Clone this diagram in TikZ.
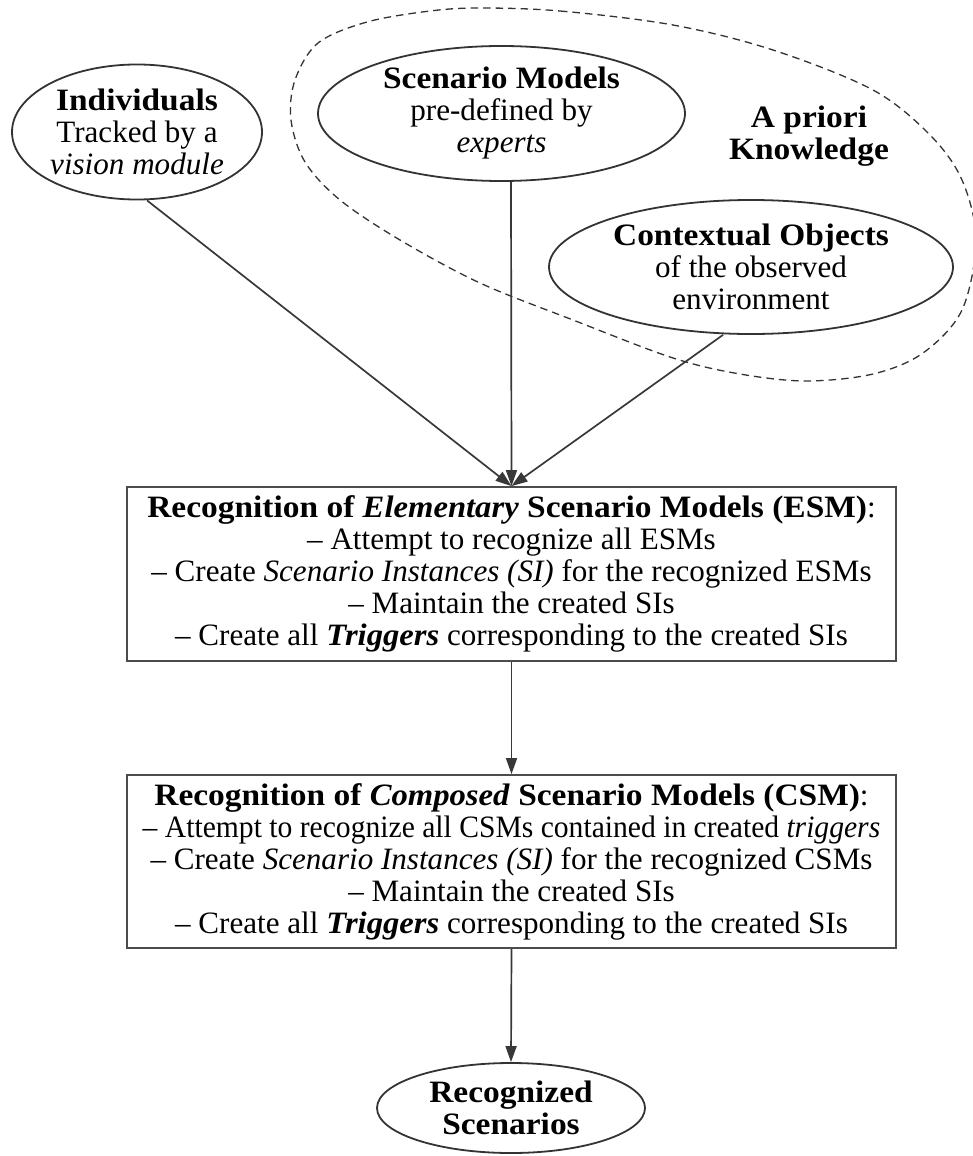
\documentclass[tikz,border=0pt]{standalone}
\usepackage{fontspec}
\setmainfont{Liberation Serif}[BoldFeatures={FakeStretch=1.075},BoldItalicFeatures={FakeStretch=1.05}]
\usetikzlibrary{arrows.meta,shapes.geometric}
\begin{document}
\begin{tikzpicture}[x=1pt,y=-1pt,
  every node/.style={font=\fontsize{31.1}{32}\selectfont, align=center, inner sep=0pt},
  oval/.style={ellipse, draw=black!80, line width=1.8pt, inner sep=-15pt},
  procbox/.style={rectangle, draw=black!70, line width=1.8pt, minimum width=769pt},
  link/.style={draw=black!78, line width=1.7pt, -{Triangle[length=16pt,width=11pt]}},
  knowledge/.style={draw=black!80, line width=1.3pt, dash pattern=on 7.5pt off 5pt}]
\useasboundingbox (0,0) rectangle (973,1156);
\begin{scope}
\clip (0,0) rectangle (973,1156);
\draw[knowledge] plot[smooth cycle, tension=0.55] coordinates {
  (480,8) (560,11) (673,25) (773,50) (873,90) (930,135) (962,180) (976,240)
  (962,310) (923,353) (873,374) (806,381) (740,374) (673,358) (573,320)
  (480,283) (400,240) (340,200) (305,162) (291,120) (295,80) (318,43)
  (367,22) (430,11)};
\end{scope}

\node[oval, minimum width=250pt, minimum height=135pt] (ind) at (137,132)
  {\textbf{Individuals}\\Tracked by a\\\textit{vision module}};
\node[oval, minimum width=367pt, minimum height=135pt] (sm) at (501.5,113.5)
  {\textbf{Scenario Models}\\pre-defined by\\\textit{experts}};
\node[oval, minimum width=404pt, minimum height=134pt] (co) at (751,267)
  {\textbf{Contextual Objects}\\of the observed\\environment};
\node (apriori) at (809,136) {\textbf{A priori}\\\textbf{Knowledge}};

\node[procbox, minimum height=174pt] (esm) at (511.5,574)
  {\textbf{Recognition of \textit{Elementary} Scenario Models (ESM)}:\\
   – Attempt to recognize all ESMs\\
   – Create \textit{Scenario Instances (SI)} for the recognized ESMs\\
   – Maintain the created SIs\\
   – Create all \textbf{\textit{Triggers}} corresponding to the created SIs};
\node[procbox, minimum height=173pt] (csm) at (511.5,861.5)
  {\textbf{Recognition of \textit{Composed} Scenario Models (CSM)}:\\
   \scalebox{0.952}[1]{– Attempt to recognize all CSMs contained in created \textit{triggers}}\\
   – Create \textit{Scenario Instances (SI)} for the recognized CSMs\\
   – Maintain the created SIs\\
   – Create all \textbf{\textit{Triggers}} corresponding to the created SIs};
\node[oval, minimum width=268pt, minimum height=90pt] (rec) at (511,1108)
  {\textbf{Recognized}\\\textbf{Scenarios}};

\draw[link] ([xshift=10pt]ind.south) -- (esm.north);
\draw[link] ([xshift=9.5pt]sm.south) -- (esm.north);
\draw[link] ([xshift=-28pt]co.south) -- (esm.north);
\draw[link] (esm.south) -- (csm.north);
\draw[link] (csm.south) -- (rec.north);
\end{tikzpicture}
\end{document}
